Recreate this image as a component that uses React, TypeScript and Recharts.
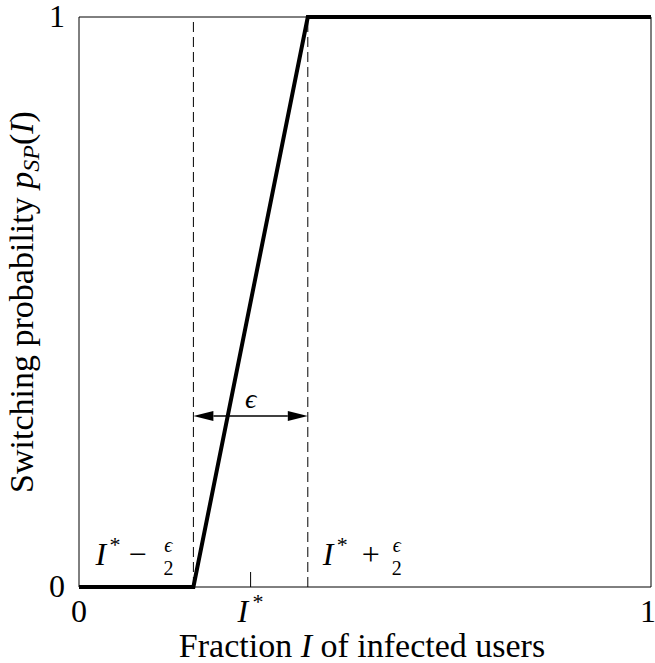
import { Line, LineChart, ReferenceArea, ReferenceLine, XAxis, YAxis } from 'recharts'

const fractionInfected = [0, 0.2, 0.4, 1]
const switchingProb = [0, 0, 1, 1]
const xTicks = [0, 0.3, 1]
const xTickLabels = ['0', 'I*', '1']
const yTicks = [0, 1]
const yTickLabels = ['0', '1']
const lowerEdge = 0.2
const upperEdge = 0.4
const arrowLevel = 0.3

const data = fractionInfected.map((x, i) => ({ x, p: switchingProb[i] }))

const FONT = "'Liberation Serif', 'DejaVu Serif', serif"

const XTick = ({ x, y, payload }: any) => {
  const idx = xTicks.indexOf(payload.value)
  const label = xTickLabels[idx]
  if (label === 'I*') {
    return (
      <g>
        <line x1={x} x2={x} y1={y} y2={y - 15} stroke="#000" strokeWidth={1} />
        <text x={x - 13} y={y + 35} fontFamily={FONT} fontSize={32} fontStyle="italic">
          I
        </text>
        <text x={x + 2} y={y + 22} fontFamily={FONT} fontSize={22}>
          *
        </text>
      </g>
    )
  }
  // the last label sits right at the page edge, nudge it in a little
  const nudge = idx === xTicks.length - 1 ? -3 : 0
  return (
    <text x={x + nudge} y={y + 35} textAnchor="middle" fontFamily={FONT} fontSize={32}>
      {label}
    </text>
  )
}

const YTick = ({ x, y, payload }: any) => {
  const idx = yTicks.indexOf(payload.value)
  return (
    <text x={x - 14} y={y + 10} textAnchor="end" fontFamily={FONT} fontSize={32}>
      {yTickLabels[idx]}
    </text>
  )
}

// small "eps over 2" fraction, centred at cx
const HalfEps = ({ cx }: { cx: number }) => (
  <g fontFamily={FONT} fontSize={20} textAnchor="middle">
    <text x={cx} y={552} fontStyle="italic">
      ϵ
    </text>
    <text x={cx} y={575}>
      2
    </text>
  </g>
)

const EdgeLabel = ({ viewBox, side }: any) => {
  const lx = viewBox.x
  if (side === 'low') {
    return (
      <g fontFamily={FONT}>
        <text x={lx - 98} y={565} fontSize={32} fontStyle="italic">
          I
        </text>
        <text x={lx - 84} y={552} fontSize={22}>
          *
        </text>
        <text x={lx - 56} y={565} fontSize={32} textAnchor="middle">
          −
        </text>
        <HalfEps cx={lx - 25} />
      </g>
    )
  }
  return (
    <g fontFamily={FONT}>
      <text x={lx + 15} y={565} fontSize={32} fontStyle="italic">
        I
      </text>
      <text x={lx + 29} y={552} fontSize={22}>
        *
      </text>
      <text x={lx + 63} y={565} fontSize={32} textAnchor="middle">
        +
      </text>
      <HalfEps cx={lx + 89} />
    </g>
  )
}

const DoubleArrow = ({ x1, y1, x2 }: any) => {
  const len = 20
  const half = 5
  return (
    <g>
      <line x1={x1 + len} x2={x2 - len} y1={y1} y2={y1} stroke="#000" strokeWidth={1.5} />
      <polygon points={`${x1},${y1} ${x1 + len},${y1 - half} ${x1 + len},${y1 + half}`} fill="#000" />
      <polygon points={`${x2},${y1} ${x2 - len},${y1 - half} ${x2 - len},${y1 + half}`} fill="#000" />
      <text
        x={(x1 + x2) / 2}
        y={y1 - 8}
        textAnchor="middle"
        fontFamily={FONT}
        fontSize={28}
        fontStyle="italic"
      >
        ϵ
      </text>
    </g>
  )
}

const YLabel = ({ viewBox }: any) => {
  const cx = 33
  const cy = viewBox.y + viewBox.height / 2
  return (
    <text
      x={cx}
      y={cy}
      transform={`rotate(-90 ${cx} ${cy})`}
      textAnchor="middle"
      fontFamily={FONT}
      fontSize={34}
    >
      Switching probability{' '}
      <tspan fontStyle="italic">p</tspan>
      <tspan fontStyle="italic" fontSize={24} dy={6}>
        SP
      </tspan>
      <tspan dy={-6}>(</tspan>
      <tspan fontStyle="italic">I</tspan>
      <tspan>)</tspan>
    </text>
  )
}

const XLabel = ({ viewBox }: any) => (
  <text
    x={viewBox.x + viewBox.width / 2 - 3}
    y={viewBox.y + 70}
    textAnchor="middle"
    fontFamily={FONT}
    fontSize={34}
  >
    Fraction <tspan fontStyle="italic">I</tspan> of infected users
  </text>
)

const App = () => {
  return (
    <div style={{ position: 'absolute', left: 0, top: 0, background: '#fff' }}>
      <LineChart width={655} height={663} data={data} margin={{ top: 17, right: 4, left: 0, bottom: 0 }}>
        <XAxis
          dataKey="x"
          type="number"
          domain={[0, 1]}
          ticks={xTicks}
          interval={0}
          axisLine={false}
          tickLine={false}
          tickSize={0}
          tickMargin={0}
          height={76}
          tick={<XTick />}
          label={{ content: (p: any) => <XLabel {...p} /> }}
        />
        <YAxis
          type="number"
          domain={[0, 1]}
          ticks={yTicks}
          interval={0}
          axisLine={false}
          tickLine={false}
          tickSize={0}
          tickMargin={0}
          width={79}
          tick={<YTick />}
          label={{ content: (p: any) => <YLabel {...p} /> }}
        />
        <ReferenceArea x1={0} x2={1} y1={0} y2={1} fill="none" stroke="#000" strokeWidth={1} fillOpacity={0} />
        <ReferenceLine
          x={lowerEdge}
          stroke="#000"
          strokeWidth={1}
          strokeDasharray="10 5"
          label={{ content: (p: any) => <EdgeLabel {...p} side="low" /> }}
        />
        <ReferenceLine
          x={upperEdge}
          stroke="#000"
          strokeWidth={1}
          strokeDasharray="10 5"
          label={{ content: (p: any) => <EdgeLabel {...p} side="high" /> }}
        />
        <ReferenceLine
          segment={[
            { x: lowerEdge, y: arrowLevel },
            { x: upperEdge, y: arrowLevel },
          ]}
          shape={(p: any) => <DoubleArrow {...p} />}
        />
        <Line
          type="linear"
          dataKey="p"
          stroke="#000"
          strokeWidth={4}
          dot={false}
          isAnimationActive={false}
        />
      </LineChart>
    </div>
  )
}

export default App
